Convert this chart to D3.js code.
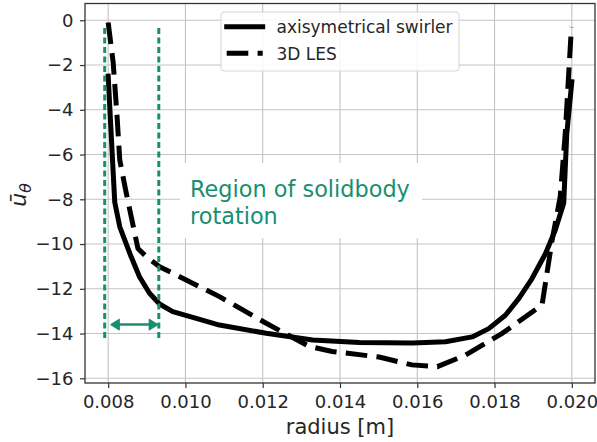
<!DOCTYPE html>
<html>
<head>
<meta charset="utf-8">
<script src="https://cdn.jsdelivr.net/npm/d3@7"></script>
<style>
  html, body { margin: 0; padding: 0; background: #fff; }
  svg { display: block; font-family: "DejaVu Sans", sans-serif; }
</style>
</head>
<body>
<svg id="chart" width="597" height="442"></svg>
<script>
// Tangential velocity profiles across the swirler radius
const radiusSwirler = [0.00800, 0.00806, 0.00812, 0.00817, 0.00830, 0.00856, 0.00881, 0.00907, 0.00933, 0.00967, 0.01028, 0.01088, 0.01209, 0.01329, 0.01450, 0.01587, 0.01673, 0.01742, 0.01785, 0.01828, 0.01863, 0.01897, 0.01932, 0.01957, 0.01979, 0.01987, 0.02000];
const uSwirler      = [-2.5, -4.5, -6.5, -8.13, -9.23, -10.42, -11.46, -12.2, -12.68, -13.02, -13.32, -13.62, -13.99, -14.29, -14.4, -14.42, -14.37, -14.15, -13.78, -13.18, -12.43, -11.54, -10.42, -9.38, -8.18, -5.06, -2.75];

const radiusLES = [0.00800, 0.00813, 0.00823, 0.00830, 0.00847, 0.00877, 0.00899, 0.00933, 0.00985, 0.01088, 0.01209, 0.01321, 0.01380, 0.01501, 0.01586, 0.01652, 0.01725, 0.01820, 0.01923, 0.01949, 0.01970, 0.01983, 0.01999];
const uLES      = [-0.1, -1.9, -4.3, -6.25, -7.74, -10.2, -10.57, -11.01, -11.46, -12.35, -13.54, -14.58, -14.8, -15.05, -15.4, -15.48, -14.96, -13.99, -12.72, -9.82, -7.89, -5.06, -0.3];

const seriesNames = ["axisymetrical swirler", "3D LES"];

const xTicks = [0.008, 0.010, 0.012, 0.014, 0.016, 0.018, 0.020];
const yTicks = [0, -2, -4, -6, -8, -10, -12, -14, -16];

// Solid-body rotation region: bounds in radius and vertical extent
const regionBounds = [0.00791, 0.00931];
const regionSpan = [-14.2, -0.2];
const regionArrow = [0.00805, 0.00930];
const regionArrowLevel = -13.6;
const regionLabel = ["Region of solidbody", "rotation"];

const svg = d3.select("#chart");
const plot = { left: 85, right: 595, top: 3.5, bottom: 383 };

const x = d3.scaleLinear().domain([0.0074, 0.0206]).range([plot.left, plot.right]);
const y = d3.scaleLinear().domain([-16.21, 0.75]).range([plot.bottom, plot.top]);

const green = "#178f70";
const ink = "#262626";

// grid
const grid = svg.append("g");
grid.selectAll("line.vx").data(xTicks).join("line")
  .attr("x1", d => x(d)).attr("x2", d => x(d))
  .attr("y1", plot.top).attr("y2", plot.bottom)
  .attr("stroke", "#c4c4c4").attr("stroke-width", 1.1);
grid.selectAll("line.hy").data(yTicks).join("line")
  .attr("y1", d => y(d)).attr("y2", d => y(d))
  .attr("x1", plot.left).attr("x2", plot.right)
  .attr("stroke", "#c4c4c4").attr("stroke-width", 1.1);

// axes
const fmtX = d3.format(".3f");
const fmtY = d => d3.format("d")(d).replace("-", "\u2212");
const xAxis = svg.append("g").attr("transform", `translate(0,${plot.bottom})`)
  .call(d3.axisBottom(x).tickValues(xTicks).tickFormat(fmtX).tickSize(5).tickPadding(7));
const yAxis = svg.append("g").attr("transform", `translate(${plot.left},0)`)
  .call(d3.axisLeft(y).tickValues(yTicks).tickFormat(fmtY).tickSize(5).tickPadding(6.5));
[xAxis, yAxis].forEach(a => {
  a.select(".domain").remove();
  a.selectAll(".tick line").attr("stroke", "#333").attr("stroke-width", 1.2);
  a.selectAll(".tick text").attr("fill", ink).style("font-size", "18px").style("font-family", "DejaVu Sans");
});

// annotation background box
svg.append("rect")
  .attr("x", 180).attr("y", 163).attr("width", 242).attr("height", 75)
  .attr("fill", "#fff");

// profiles
const line = d3.line().x(d => x(d[0])).y(d => y(d[1]));
svg.append("path")
  .datum(d3.zip(radiusSwirler, uSwirler))
  .attr("d", line).attr("fill", "none")
  .attr("stroke", "#000").attr("stroke-width", 5)
  .attr("stroke-linejoin", "round").attr("stroke-linecap", "square");
svg.append("path")
  .datum(d3.zip(radiusLES, uLES))
  .attr("d", line).attr("fill", "none")
  .attr("stroke", "#000").attr("stroke-width", 5)
  .attr("stroke-linejoin", "round")
  .attr("stroke-dasharray", "21.6,9.3");

// solid-body region markers
svg.selectAll("line.region").data(regionBounds).join("line")
  .attr("x1", d => x(d)).attr("x2", d => x(d))
  .attr("y1", y(regionSpan[0])).attr("y2", y(regionSpan[1]))
  .attr("stroke", green).attr("stroke-width", 3)
  .attr("stroke-dasharray", "6,3.5");

const ay = y(regionArrowLevel);
const ax0 = x(regionArrow[0]), ax1 = x(regionArrow[1]);
svg.append("line").attr("x1", ax0 + 2).attr("x2", ax1 - 2).attr("y1", ay).attr("y2", ay)
  .attr("stroke", green).attr("stroke-width", 2.5);
svg.append("path")
  .attr("d", `M${ax0 + 9},${ay - 5} L${ax0 + 1},${ay} L${ax0 + 9},${ay + 5} Z M${ax1 - 9},${ay - 5} L${ax1 - 1},${ay} L${ax1 - 9},${ay + 5} Z`)
  .attr("fill", green).attr("stroke", green).attr("stroke-width", 1.5).attr("stroke-linejoin", "round");

svg.append("text")
  .attr("x", 190).attr("y", 197)
  .attr("fill", green).style("font-size", "22.4px")
  .selectAll("tspan").data(regionLabel).join("tspan")
  .attr("x", 190).attr("dy", (d, i) => i ? 26.5 : 0)
  .text(d => d);

// frame
svg.append("rect")
  .attr("x", plot.left).attr("y", plot.top)
  .attr("width", plot.right - plot.left).attr("height", plot.bottom - plot.top)
  .attr("fill", "none").attr("stroke", "#333").attr("stroke-width", 1.3);

// legend
const legend = svg.append("g");
legend.append("rect")
  .attr("x", 221).attr("y", 12).attr("width", 238).attr("height", 59).attr("rx", 3)
  .attr("fill", "#fff").attr("fill-opacity", 0.85)
  .attr("stroke", "#d6d6d6").attr("stroke-width", 1);
const legendRows = legend.selectAll("g.row").data(seriesNames).join("g")
  .attr("transform", (d, i) => `translate(0,${26.7 + i * 26.6})`);
legendRows.append("line")
  .attr("x1", 226.7).attr("x2", 262.7).attr("y1", 0).attr("y2", 0)
  .attr("stroke", "#000").attr("stroke-width", 5)
  .attr("stroke-linecap", (d, i) => i ? "butt" : "square")
  .attr("stroke-dasharray", (d, i) => i ? "21.6,9.3" : null);
legendRows.append("text")
  .attr("x", 276.5).attr("y", 6.3)
  .attr("fill", ink).style("font-size", "17px")
  .text(d => d);

// axis labels
svg.append("text")
  .attr("x", 340).attr("y", 433.5).attr("text-anchor", "middle")
  .attr("fill", ink).style("font-size", "21px")
  .text("radius [m]");
const yl = svg.append("text")
  .attr("transform", "translate(26,195) rotate(-90)")
  .attr("text-anchor", "middle")
  .attr("fill", ink).style("font-size", "22px").style("font-style", "italic");
yl.append("tspan").text("\u016B");
yl.append("tspan").attr("dy", 4.5).style("font-size", "15.5px").text("\u03B8");
</script>
</body>
</html>
